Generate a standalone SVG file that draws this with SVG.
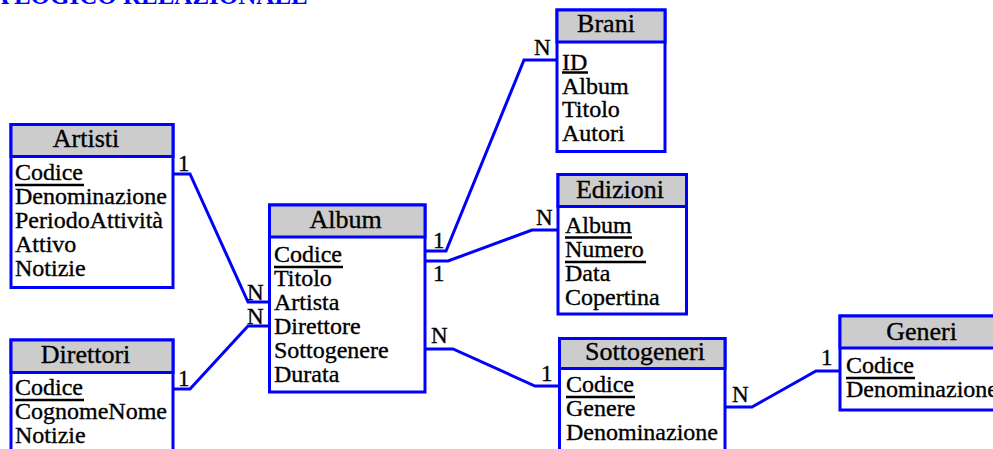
<svg xmlns="http://www.w3.org/2000/svg" width="993" height="449" viewBox="0 0 993 449">
<style>
text{font-family:"Liberation Serif","Times New Roman",serif;fill:#000;stroke:#000;stroke-width:0.35}
.box{fill:#fff;stroke:#0000ff;stroke-width:3}
.hdr{fill:#cccccc;stroke:#0000ff;stroke-width:3}
.h{font-size:26px;text-anchor:middle}
.a{font-size:24px}
.c{font-size:23px}
.u{stroke:#000;stroke-width:2.5}
.con{fill:none;stroke:#0000ff;stroke-width:3;stroke-linejoin:miter}
.title{font-size:25px;font-weight:bold;fill:#0000ff;stroke:none}
</style>
<text class="title" x="-9" y="4">A LOGICO RELAZIONALE</text>
<g id="connectors">
<path class="con" d="M173,174 H190 L248,302 H269.5"/>
<path class="con" d="M173,389 H190 L248,326 H269.5"/>
<path class="con" d="M425,251 H446 L524,60 H557"/>
<path class="con" d="M425,261 H448 L532,230 H558"/>
<path class="con" d="M425,349 H453 L535,386 H559"/>
<path class="con" d="M725,407 H752 L816,371 H840"/>
<text class="c" x="178" y="171">1</text>
<text class="c" x="247" y="300">N</text>
<text class="c" x="247" y="324">N</text>
<text class="c" x="178" y="386">1</text>
<text class="c" x="433" y="248">1</text>
<text class="c" x="433" y="281">1</text>
<text class="c" x="431" y="343">N</text>
<text class="c" x="534" y="55">N</text>
<text class="c" x="536" y="225">N</text>
<text class="c" x="541" y="381">1</text>
<text class="c" x="732" y="402">N</text>
<text class="c" x="821" y="365">1</text>
</g>
<g id="artisti">
<rect class="box" x="11" y="124.5" width="162" height="163"/>
<rect class="hdr" x="11" y="124.5" width="162" height="32"/>
<text class="h" x="86" y="147">Artisti</text>
<text class="a" x="15" y="180">Codice</text>
<line class="u" x1="15" y1="185" x2="84" y2="185"/>
<text class="a" x="15" y="204">Denominazione</text>
<text class="a" x="15" y="228">PeriodoAttività</text>
<text class="a" x="15" y="251.5">Attivo</text>
<text class="a" x="15" y="275.5">Notizie</text>
</g>
<g id="direttori">
<rect class="box" x="11" y="340" width="162" height="130"/>
<rect class="hdr" x="11" y="340" width="162" height="32.5"/>
<text class="h" x="85.5" y="363">Direttori</text>
<text class="a" x="15" y="395">Codice</text>
<line class="u" x1="15" y1="400" x2="84" y2="400"/>
<text class="a" x="15" y="419">CognomeNome</text>
<text class="a" x="15" y="443">Notizie</text>
</g>
<g id="album">
<rect class="box" x="269.5" y="205" width="155.5" height="187"/>
<rect class="hdr" x="269.5" y="205" width="155.5" height="32"/>
<text class="h" x="345.5" y="228">Album</text>
<text class="a" x="274" y="262">Codice</text>
<line class="u" x1="274" y1="267" x2="343" y2="267"/>
<text class="a" x="274" y="286">Titolo</text>
<text class="a" x="274" y="310">Artista</text>
<text class="a" x="274" y="334">Direttore</text>
<text class="a" x="274" y="358">Sottogenere</text>
<text class="a" x="274" y="382">Durata</text>
</g>
<g id="brani">
<rect class="box" x="557" y="10" width="108" height="141.5"/>
<rect class="hdr" x="557" y="10" width="108" height="32"/>
<text class="h" x="606" y="32">Brani</text>
<text class="a" x="562" y="69.5">ID</text>
<line class="u" x1="562" y1="72.5" x2="588" y2="72.5"/>
<text class="a" x="562" y="93.5">Album</text>
<text class="a" x="562" y="117">Titolo</text>
<text class="a" x="562" y="140.5">Autori</text>
</g>
<g id="edizioni">
<rect class="box" x="558" y="174.5" width="128.5" height="139.5"/>
<rect class="hdr" x="558" y="174.5" width="128.5" height="32"/>
<text class="h" x="620" y="198">Edizioni</text>
<text class="a" x="565" y="233">Album</text>
<line class="u" x1="565" y1="237.5" x2="632" y2="237.5"/>
<text class="a" x="565" y="257">Numero</text>
<line class="u" x1="565" y1="262" x2="646" y2="262"/>
<text class="a" x="565" y="281">Data</text>
<text class="a" x="565" y="305">Copertina</text>
</g>
<g id="sottogeneri">
<rect class="box" x="559.5" y="338.5" width="165.5" height="130"/>
<rect class="hdr" x="559.5" y="338.5" width="165.5" height="30"/>
<text class="h" x="645" y="360">Sottogeneri</text>
<text class="a" x="566" y="392">Codice</text>
<line class="u" x1="566" y1="397" x2="635" y2="397"/>
<text class="a" x="566" y="416">Genere</text>
<text class="a" x="566" y="440">Denominazione</text>
</g>
<g id="generi">
<rect class="box" x="840" y="316" width="170" height="94"/>
<rect class="hdr" x="840" y="316" width="170" height="32"/>
<text class="h" x="921.5" y="340">Generi</text>
<text class="a" x="846" y="373">Codice</text>
<line class="u" x1="846" y1="378" x2="915" y2="378"/>
<text class="a" x="846" y="397">Denominazione</text>
</g>
</svg>
